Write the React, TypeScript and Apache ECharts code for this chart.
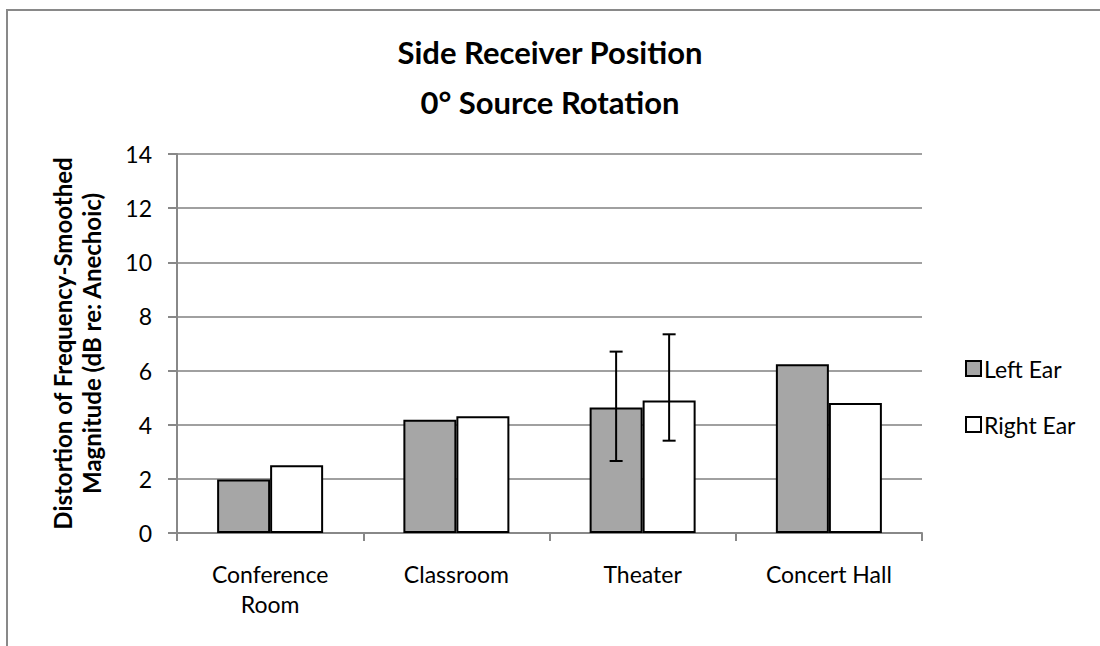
import React, { useEffect, useRef } from "react";
import * as echarts from "echarts";

const categories = ["Conference\nRoom", "Classroom", "Theater", "Concert Hall"];
const seriesNames = ["Left Ear", "Right Ear"];
const leftEar = [1.98, 4.18, 4.64, 6.23];
const rightEar = [2.5, 4.31, 4.89, 4.8];
// error bars: [categoryIndex, low, high]
const leftEarErrors = [[2, 2.66, 6.7]];
const rightEarErrors = [[2, 3.41, 7.34]];
const yTicks = { min: 0, max: 14, interval: 2 };
const titleText = "Side Receiver Position\n0° Source Rotation";
const yAxisTitle = "Distortion of Frequency-Smoothed\nMagnitude (dB re: Anechoic)";

const FONT = "Lato, 'Open Sans', sans-serif";
const BAR_W = 53;

function errorSeries(data: number[][], offset: number) {
  return {
    type: "custom",
    silent: true,
    z: 10,
    data,
    renderItem: (params: any, api: any) => {
      const x = api.coord([api.value(0), api.value(1)])[0] + offset;
      const yLow = api.coord([api.value(0), api.value(1)])[1];
      const yHigh = api.coord([api.value(0), api.value(2)])[1];
      const cap = 6.5;
      const style = { stroke: "#000", lineWidth: 2 };
      return {
        type: "group",
        children: [
          { type: "line", shape: { x1: x, y1: yLow, x2: x, y2: yHigh }, style },
          { type: "line", shape: { x1: x - cap, y1: yHigh, x2: x + cap, y2: yHigh }, style },
          { type: "line", shape: { x1: x - cap, y1: yLow, x2: x + cap, y2: yLow }, style },
        ],
      };
    },
  };
}

export default function App() {
  const ref = useRef<HTMLDivElement>(null);
  useEffect(() => {
    if (!ref.current) return;
    const chart = echarts.init(ref.current, undefined, { renderer: "svg" });
    chart.setOption({
      animation: false,
      backgroundColor: "#fff",
      textStyle: { fontFamily: FONT },
      title: {
        text: titleText,
        left: "center",
        top: 27,
        padding: 0,
        textStyle: { fontFamily: FONT, fontSize: 31, fontWeight: "bold", color: "#000", lineHeight: 50 },
      },
      graphic: [
        {
          type: "rect",
          shape: { x: 7, y: 10, width: 1300, height: 900 },
          style: { fill: "none", stroke: "#898989", lineWidth: 2 },
          silent: true,
          z: -1,
        },
      ],
      legend: {
        orient: "vertical",
        left: 965,
        top: 357,
        padding: 0,
        itemWidth: 15,
        itemHeight: 15,
        itemGap: 33,
        icon: "rect",
        textStyle: { fontFamily: FONT, fontSize: 23, color: "#000", padding: [0, 0, 0, -2] },
        data: seriesNames,
      },
      grid: { left: 177, right: 178, top: 154, bottom: 113 },
      xAxis: {
        type: "category",
        data: categories,
        axisLine: { lineStyle: { color: "#888", width: 2 } },
        axisTick: { show: true, length: 8, lineStyle: { color: "#888", width: 2 } },
        axisLabel: { fontFamily: FONT, fontSize: 23, color: "#000", margin: 26, lineHeight: 30 },
      },
      yAxis: {
        type: "value",
        min: yTicks.min,
        max: yTicks.max,
        interval: yTicks.interval,
        name: yAxisTitle,
        nameLocation: "middle",
        nameRotate: 90,
        nameGap: 71,
        nameTextStyle: { fontFamily: FONT, fontSize: 24, fontWeight: "bold", color: "#000", lineHeight: 29 },
        axisLine: { show: true, lineStyle: { color: "#888", width: 2 } },
        axisTick: { show: true, length: 9, lineStyle: { color: "#888", width: 2 } },
        axisLabel: { fontFamily: FONT, fontSize: 23, color: "#000", margin: 25 },
        splitLine: { show: true, lineStyle: { color: "#a0a0a0", width: 2 } },
      },
      series: [
        {
          name: seriesNames[0],
          type: "bar",
          data: leftEar,
          barWidth: BAR_W,
          barGap: "0%",
          itemStyle: { color: "#a6a6a6", borderColor: "#000", borderWidth: 2 },
        },
        {
          name: seriesNames[1],
          type: "bar",
          data: rightEar,
          barWidth: BAR_W,
          barGap: "0%",
          itemStyle: { color: "#ffffff", borderColor: "#000", borderWidth: 2 },
        },
        errorSeries(leftEarErrors, -BAR_W / 2),
        errorSeries(rightEarErrors, BAR_W / 2),
      ],
    });
    return () => chart.dispose();
  }, []);
  return <div ref={ref} style={{ width: 1100, height: 646, position: "absolute", left: 0, top: 0 }} />;
}
